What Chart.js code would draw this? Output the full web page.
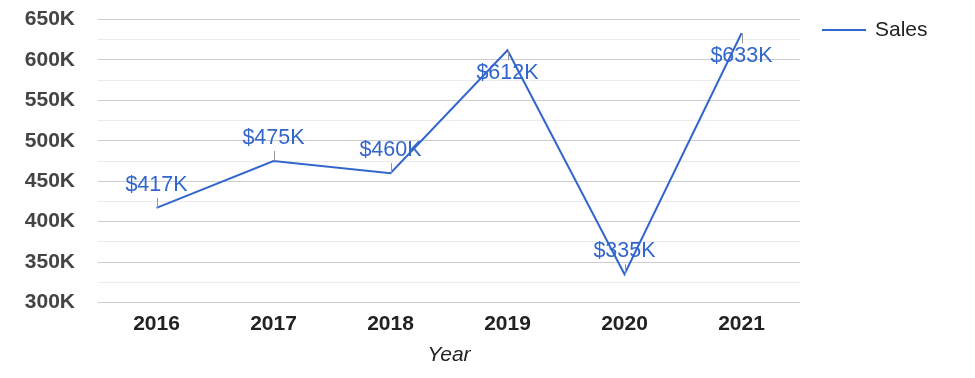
<!DOCTYPE html>
<html>
<head>
<meta charset="utf-8">
<script src="https://cdn.jsdelivr.net/npm/chart.js@4"></script>
<style>
    html, body { margin: 0; padding: 0; background: #fff; }
    #wrap { width: 975px; height: 378px; }
</style>
</head>
<body>
<div id="wrap"><canvas id="sales-chart"></canvas></div>
<script>
const years = ["2016", "2017", "2018", "2019", "2020", "2021"];
const sales = [417000, 475000, 460000, 612000, 335000, 633000];
const seriesName = "Sales";
const axisTitle = "Year";
const yMin = 300000;
const yMax = 650000;

const FONT = "'Liberation Sans', Arial, sans-serif";
const BLUE = "#3366cc";

function formatK(v) {
    return `${Math.round(v / 1000)}K`;
}

// value labels with a short leader line, flipped below when they would leave the plot
const valueLabels = {
    id: "valueLabels",
    afterDatasetsDraw(chart) {
        const { ctx, chartArea } = chart;
        const meta = chart.getDatasetMeta(0);
        const values = chart.data.datasets[0].data;
        ctx.save();
        ctx.font = `21.5px ${FONT}`;
        ctx.textAlign = "center";
        ctx.textBaseline = "middle";
        meta.data.forEach((pt, i) => {
            let dir = -1;
            if (pt.y - 23 - 10 < chartArea.top) dir = 1;
            ctx.strokeStyle = "#999";
            ctx.lineWidth = 1;
            ctx.beginPath();
            ctx.moveTo(Math.round(pt.x) + 0.5, pt.y);
            ctx.lineTo(Math.round(pt.x) + 0.5, pt.y + dir * 10);
            ctx.stroke();
            ctx.fillStyle = BLUE;
            ctx.fillText(`$${formatK(values[i])}`, pt.x, pt.y + dir * 23);
        });
        ctx.restore();
    },
};

const sideLegend = {
    id: "sideLegend",
    afterDraw(chart) {
        const { ctx } = chart;
        ctx.save();
        ctx.strokeStyle = BLUE;
        ctx.lineWidth = 2;
        ctx.beginPath();
        ctx.moveTo(822, 30);
        ctx.lineTo(866, 30);
        ctx.stroke();
        ctx.font = `21px ${FONT}`;
        ctx.fillStyle = "#222";
        ctx.textBaseline = "middle";
        ctx.fillText(chart.data.datasets[0].label, 875, 30);
        ctx.restore();
    },
};

new Chart(document.getElementById("sales-chart"), {
    type: "line",
    data: {
        labels: years,
        datasets: [
            {
                label: seriesName,
                data: sales,
                borderColor: BLUE,
                borderWidth: 2,
                pointRadius: 0,
                tension: 0,
            },
        ],
    },
    options: {
        responsive: true,
        maintainAspectRatio: false,
        animation: false,
        layout: { padding: { top: 19.5, right: 175, bottom: 0, left: 0 } },
        plugins: {
            legend: { display: false },
            tooltip: { enabled: false },
        },
        scales: {
            x: {
                offset: true,
                grid: { display: false, drawTicks: false },
                border: { display: false },
                ticks: {
                    padding: 9,
                    color: "#222",
                    font: { family: FONT, size: 21, weight: "bold" },
                },
                title: {
                    display: true,
                    text: axisTitle,
                    color: "#222",
                    padding: { top: 0, bottom: 10 },
                    font: { family: FONT, size: 21, style: "italic" },
                },
                afterFit(scale) {
                    scale.height = 75.5;
                },
            },
            y: {
                min: yMin,
                max: yMax,
                border: { display: false },
                grid: {
                    drawTicks: false,
                    color(ctx) {
                        return ctx.tick && ctx.tick.value % 50000 === 0 ? "#cccccc" : "#ebebeb";
                    },
                },
                ticks: {
                    stepSize: 25000,
                    autoSkip: false,
                    padding: 23,
                    color: "#444",
                    font: { family: FONT, size: 21, weight: "bold" },
                    callback(value) {
                        return value % 50000 === 0 ? formatK(value) : "";
                    },
                },
                afterFit(scale) {
                    scale.width = 98;
                    // tick padding would otherwise push the plot top down
                    scale.paddingTop = 0;
                    scale.paddingBottom = 0;
                },
            },
        },
    },
    plugins: [valueLabels, sideLegend],
});
</script>
</body>
</html>
